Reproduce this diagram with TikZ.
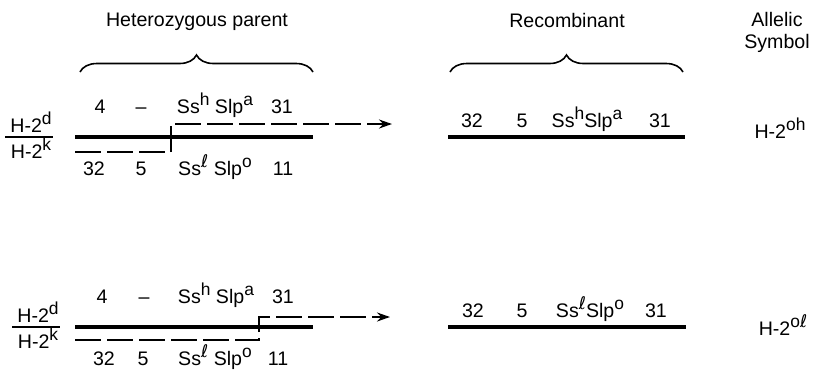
\documentclass[tikz,border=0pt]{standalone}
\usepackage{fontspec}
\setmainfont{Liberation Sans}
\newfontfamily\ellfont{DejaVu Sans}
\usetikzlibrary{decorations.pathreplacing,arrows.meta}
\newcommand\allele[1]{\raisebox{4pt}{\fontsize{8.7}{9}\selectfont#1}}
\newcommand\ellsym{{\ellfont ℓ}}

\begin{document}
\begin{tikzpicture}[x=0.5pt,y=-0.5pt,
  lbl/.style={anchor=base,inner sep=0pt,font=\fontsize{9.8}{10}\selectfont},
  chrom/.style={line width=1.6pt},
  partner/.style={line width=1.2pt,dash pattern=on 13pt off 3pt},
  fracbar/.style={line width=0.7pt},
  curly/.style={decorate,decoration={brace,amplitude=8.5pt},line width=0.8pt}]
    \useasboundingbox (0,0) rectangle (816,371);
    % Headings
    \node[lbl] (het) at (197,26) {Heterozygous parent};
    \node[lbl] (rec) at (567,27) {Recombinant};
    \node[lbl] (allelic) at (777,26) {Allelic};
    \node[lbl] (symbol) at (777,48) {Symbol};
    \draw[curly] (80,72) coordinate (hetL) -- (313,72) coordinate (hetR);
    \draw[curly] (450,72) coordinate (recL) -- (683,72) coordinate (recR);
    % First crossover
    \node[lbl] (hdA) at (31,132) {H-2\allele{d}};
    \node[lbl] (hkA) at (31,158) {H-2\allele{k}};
    \draw[fracbar] (5,137) -- (53,137);
    \node[lbl] (fourA) at (100,113) {4};
    \node[lbl] (dashA) at (141,113) {–};
    \node[lbl] (ssA) at (215,113) {Ss\allele{h} Slp\allele{a}};
    \node[lbl] (tA) at (282,113) {31};
    \node[lbl] (ttA) at (94,175) {32};
    \node[lbl] (fiveA) at (141,175) {5};
    \node[lbl] (slA) at (215,175) {Ss\allele{\ellsym} Slp\allele{o}};
    \node[lbl] (eA) at (283,175) {11};
    \coordinate (upA) at (75,137);
    \coordinate (upAend) at (313,137);
    \coordinate (loA) at (75,152);
    \coordinate (xA) at (171,152);
    \coordinate (tipA) at (392,124);
    \draw[chrom] (upA) -- (upAend);
    \draw[partner,-{Stealth[length=6.5pt,width=4.5pt]}] (loA) -- (xA) |- (tipA);
    % First recombinant
    \node[lbl] (rttA) at (472,127) {32};
    \node[lbl] (rfiveA) at (522,127) {5};
    \node[lbl] (rssA) at (587,127) {Ss\allele{h}Slp\allele{a}};
    \node[lbl] (rtA) at (660,127) {31};
    \draw[chrom] (448,137) coordinate (rA) -- (685,137) coordinate (rAend);
    \node[lbl] (symA) at (780,138) {H-2\allele{oh}};
    % Second crossover
    \node[lbl] (hdB) at (38,322) {H-2\allele{d}};
    \node[lbl] (hkB) at (38,348) {H-2\allele{k}};
    \draw[fracbar] (12,327) -- (60,327);
    \node[lbl] (fourB) at (102,303) {4};
    \node[lbl] (dashB) at (144,303) {–};
    \node[lbl] (ssB) at (216,303) {Ss\allele{h} Slp\allele{a}};
    \node[lbl] (tB) at (283,303) {31};
    \node[lbl] (ttB) at (104,365) {32};
    \node[lbl] (fiveB) at (143,365) {5};
    \node[lbl] (slB) at (215,365) {Ss\allele{\ellsym} Slp\allele{o}};
    \node[lbl] (eB) at (278,365) {11};
    \coordinate (upB) at (75,327);
    \coordinate (upBend) at (313,327);
    \coordinate (loB) at (75,340);
    \coordinate (xB) at (259,340);
    \coordinate (tipB) at (390,317);
    \draw[chrom] (upB) -- (upBend);
    \draw[partner,-{Stealth[length=6.5pt,width=4.5pt]}] (loB) -- (xB) |- (tipB);
    % Second recombinant
    \node[lbl] (rttB) at (473,317) {32};
    \node[lbl] (rfiveB) at (522,317) {5};
    \node[lbl] (rslB) at (590,317) {Ss\allele{\ellsym}Slp\allele{o}};
    \node[lbl] (rtB) at (656,317) {31};
    \draw[chrom] (448,327) coordinate (rB) -- (686,327) coordinate (rBend);
    \node[lbl] (symB) at (783,335) {H-2\allele{o\ellsym}};
\end{tikzpicture}
\end{document}
